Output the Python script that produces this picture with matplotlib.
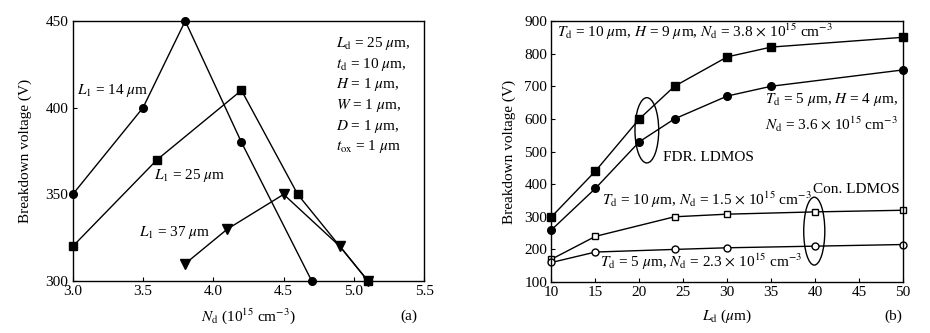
import matplotlib
matplotlib.use("Agg")
import matplotlib.pyplot as plt
from matplotlib.patches import Ellipse

plt.rcParams['font.family'] = ['Liberation Serif', 'DejaVu Serif']
plt.rcParams['mathtext.fontset'] = 'stix'

# ---- panel (a) data ----
a_x14 = [3.0, 3.5, 3.8, 4.2, 4.7]
a_y14 = [350, 400, 450, 380, 300]
a_x25 = [3.0, 3.6, 4.2, 4.6, 5.1]
a_y25 = [320, 370, 410, 350, 300]
a_x37 = [3.8, 4.1, 4.5, 4.9, 5.1]
a_y37 = [310, 330, 350, 320, 300]
a_xticks = [3.0, 3.5, 4.0, 4.5, 5.0, 5.5]
a_yticks = [300, 350, 400, 450]

# ---- panel (b) data ----
b_x_fdr = [10, 15, 20, 24, 30, 35, 50]
b_y_fdr_sq = [300, 440, 600, 700, 790, 820, 850]
b_y_fdr_ci = [260, 387, 530, 600, 670, 700, 750]
b_x_con = [10, 15, 24, 30, 40, 50]
b_y_con_sq = [170, 240, 300, 308, 315, 320]
b_y_con_ci = [160, 192, 200, 205, 210, 215]
b_xticks = [10, 15, 20, 25, 30, 35, 40, 45, 50]
b_yticks = [100, 200, 300, 400, 500, 600, 700, 800, 900]

fig = plt.figure(figsize=(9.3, 3.33), dpi=100)
ax1 = fig.add_axes([0.0782, 0.156, 0.378, 0.781])
ax2 = fig.add_axes([0.593, 0.153, 0.378, 0.784])

fs_tick = 11
fs_txt = 11
lw = 1.0

for ax in (ax1, ax2):
    ax.tick_params(direction='in', length=3, width=0.8, labelsize=fs_tick, pad=3)
    for s in ax.spines.values():
        s.set_linewidth(1.0)

# panel (a)
ax1.plot(a_x14, a_y14, '-o', color='black', lw=lw, ms=5.5, clip_on=False)
ax1.plot(a_x25, a_y25, '-s', color='black', lw=lw, ms=6, clip_on=False)
ax1.plot(a_x37, a_y37, '-v', color='black', lw=lw, ms=6.5, clip_on=False)
ax1.set_xlim(3.0, 5.5)
ax1.set_ylim(300, 450)
ax1.set_xticks(a_xticks)
ax1.set_xticklabels([f"{v:.1f}" for v in a_xticks])
ax1.set_yticks(a_yticks)
ax1.set_ylabel("Breakdown voltage (V)", fontsize=fs_txt, labelpad=10)
ax1.set_xlabel(r"$N_\mathrm{d}$ (10$^{15}$ cm$^{-3}$)", fontsize=fs_txt, labelpad=6)
ax1.text(3.03, 410, r"$L_1$ = 14 $\mu$m", fontsize=fs_txt, va='center', ha='left')
ax1.text(3.58, 361, r"$L_1$ = 25 $\mu$m", fontsize=fs_txt, va='center', ha='left')
ax1.text(3.47, 328, r"$L_1$ = 37 $\mu$m", fontsize=fs_txt, va='center', ha='left')
params = [r"$L_\mathrm{d}$ = 25 $\mu$m,", r"$t_\mathrm{d}$ = 10 $\mu$m,",
          r"$H$ = 1 $\mu$m,", r"$W$ = 1 $\mu$m,", r"$D$ = 1 $\mu$m,",
          r"$t_\mathrm{ox}$ = 1 $\mu$m"]
for i, p in enumerate(params):
    ax1.text(4.87, 437 - i * 11.9, p, fontsize=fs_txt, va='center', ha='left')
fig.text(409 / 930, 1 - 316 / 333, "(a)", fontsize=fs_txt, ha='center', va='center')

# panel (b)
ax2.plot(b_x_fdr, b_y_fdr_sq, '-s', color='black', lw=lw, ms=6, clip_on=False)
ax2.plot(b_x_fdr, b_y_fdr_ci, '-o', color='black', lw=lw, ms=5.5, clip_on=False)
ax2.plot(b_x_con, b_y_con_sq, '-s', color='black', mfc='white', lw=lw, ms=5, clip_on=False)
ax2.plot(b_x_con, b_y_con_ci, '-o', color='black', mfc='white', lw=lw, ms=5, clip_on=False)
ax2.set_xlim(10, 50)
ax2.set_ylim(100, 900)
ax2.set_xticks(b_xticks)
ax2.set_yticks(b_yticks)
ax2.set_ylabel("Breakdown voltage (V)", fontsize=fs_txt, labelpad=6)
ax2.set_xlabel(r"$L_\mathrm{d}$ ($\mu$m)", fontsize=fs_txt, labelpad=6)
ax2.add_patch(Ellipse((20.85, 565), 2.7, 200, fill=False, ec='black', lw=1.0))
ax2.add_patch(Ellipse((39.9, 256), 2.4, 208, fill=False, ec='black', lw=1.0))
ax2.text(10.6, 866, r"$T_\mathrm{d}$ = 10 $\mu$m, $H$ = 9 $\mu$m, $N_\mathrm{d}$ = 3.8 $\times$ 10$^{15}$ cm$^{-3}$",
         fontsize=fs_txt, va='center', ha='left')
ax2.text(34.3, 658, r"$T_\mathrm{d}$ = 5 $\mu$m, $H$ = 4 $\mu$m,", fontsize=fs_txt, va='center', ha='left')
ax2.text(34.3, 584, r"$N_\mathrm{d}$ = 3.6 $\times$ 10$^{15}$ cm$^{-3}$", fontsize=fs_txt, va='center', ha='left')
ax2.text(22.7, 483, "FDR. LDMOS", fontsize=fs_txt, va='center', ha='left')
ax2.text(39.7, 385, "Con. LDMOS", fontsize=fs_txt, va='center', ha='left')
ax2.text(15.7, 351, r"$T_\mathrm{d}$ = 10 $\mu$m, $N_\mathrm{d}$ = 1.5 $\times$ 10$^{15}$ cm$^{-3}$",
         fontsize=fs_txt, va='center', ha='left')
ax2.text(15.5, 161, r"$T_\mathrm{d}$ = 5 $\mu$m, $N_\mathrm{d}$ = 2.3 $\times$ 10$^{15}$ cm$^{-3}$",
         fontsize=fs_txt, va='center', ha='left')
fig.text(893 / 930, 1 - 316 / 333, "(b)", fontsize=fs_txt, ha='center', va='center')

fig.savefig("out.png", dpi=100)
